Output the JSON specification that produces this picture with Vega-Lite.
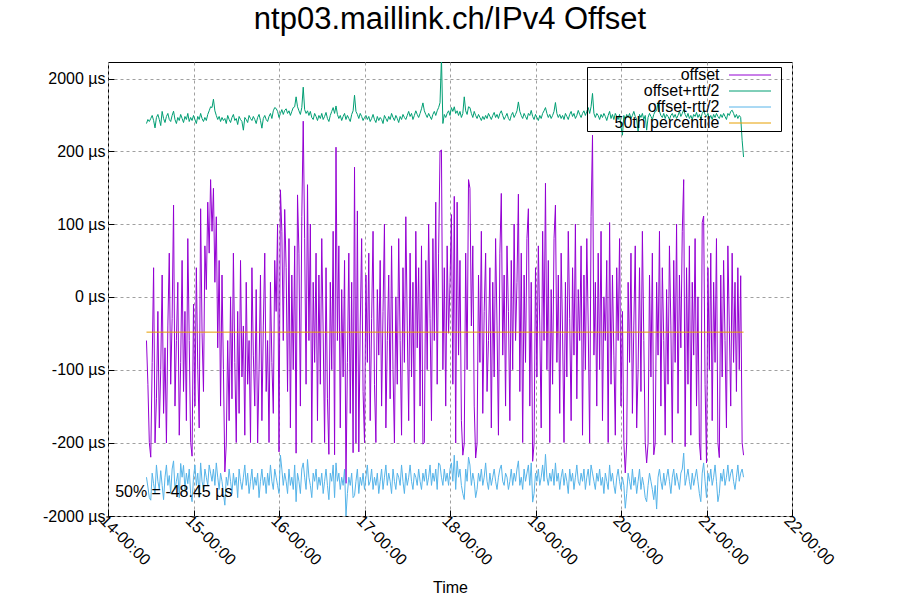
{
"$schema":"https://vega.github.io/schema/vega-lite/v6.json",
"width":684,"height":454,
"autosize":"none",
"padding":{"left":108,"top":62,"right":108,"bottom":84},
"background":"white",
"title":{"text":"ntp03.maillink.ch/IPv4 Offset","fontSize":31,"font":"Liberation Sans","fontWeight":"normal","color":"black","anchor":"middle","baseline":"alphabetic","offset":2},
"config":{"font":"Liberation Sans","view":{"stroke":"black","strokeWidth":1},
 "axis":{"labelFont":"Liberation Sans","labelFontSize":16,"labelColor":"black","domain":false,"grid":true,"gridColor":"#a0a0a0","gridDash":[3,3],"gridOpacity":1,"tickColor":"black","titleFont":"Liberation Sans","titleFontSize":16,"titleFontWeight":"normal","titleColor":"black","labelOverlap":false,"labelFlush":false,"labelBound":false},
 "legend":{"labelFont":"Liberation Sans","labelFontSize":16,"labelColor":"black"}},
"layer":[
{"data":{"values":[
{"t":27,"o":-60,"p":885,"m":-1050},{"t":28,"o":-120,"p":985,"m":-1290},{"t":29,"o":-200,"p":935,"m":-1550},{"t":30,"o":-560,"p":1010,"m":-1613},{"t":31,"o":-90,"p":1085,"m":-950},{"t":32,"o":40,"p":960,"m":-1210},{"t":33,"o":-210,"p":777,"m":-1450},{"t":34,"o":-140,"p":1035,"m":-750},{"t":35,"o":-20,"p":1110,"m":-1150},{"t":36,"o":-180,"p":985,"m":-1350},
{"t":37,"o":-100,"p":835,"m":-890},{"t":38,"o":30,"p":1185,"m":-1250},{"t":39,"o":-160,"p":1010,"m":-1600},{"t":40,"o":-70,"p":910,"m":-1050},{"t":41,"o":-210,"p":1060,"m":-750},{"t":42,"o":-40,"p":1135,"m":-1250},{"t":43,"o":60,"p":985,"m":-1010},{"t":44,"o":-120,"p":935,"m":-1450},{"t":45,"o":-30,"p":1085,"m":-850},{"t":46,"o":126,"p":1190,"m":-650},
{"t":47,"o":-150,"p":985,"m":-1350},{"t":48,"o":-60,"p":885,"m":-1150},{"t":49,"o":20,"p":1035,"m":-950},{"t":50,"o":-190,"p":960,"m":-1550},{"t":51,"o":-90,"p":1110,"m":-714},{"t":52,"o":50,"p":1010,"m":-1050},{"t":53,"o":-130,"p":910,"m":-760},{"t":54,"o":-20,"p":1060,"m":-1350},{"t":55,"o":-170,"p":985,"m":-950},{"t":56,"o":80,"p":1135,"m":-1210},
{"t":57,"o":-60,"p":935,"m":-850},{"t":58,"o":-200,"p":1035,"m":-1450},{"t":59,"o":-535,"p":960,"m":-1650},{"t":60,"o":-10,"p":1085,"m":-1050},{"t":61,"o":-150,"p":985,"m":-750},{"t":62,"o":40,"p":885,"m":-1250},{"t":63,"o":-100,"p":1060,"m":-950},{"t":64,"o":-180,"p":985,"m":-1550},{"t":65,"o":121,"p":1135,"m":-700},{"t":66,"o":-50,"p":1010,"m":-1150},
{"t":67,"o":-130,"p":935,"m":-1350},{"t":68,"o":70,"p":1035,"m":-850},{"t":69,"o":10,"p":960,"m":-1050},{"t":70,"o":130,"p":1110,"m":-1250},{"t":71,"o":60,"p":1200,"m":-750},{"t":72,"o":161,"p":1300,"m":-950},{"t":73,"o":90,"p":1280,"m":-1150},{"t":74,"o":149,"p":1487,"m":-850},{"t":75,"o":20,"p":1200,"m":-1250},{"t":76,"o":110,"p":1085,"m":-700},
{"t":77,"o":-70,"p":985,"m":-1050},{"t":78,"o":50,"p":1060,"m":-1350},{"t":79,"o":-150,"p":935,"m":-950},{"t":80,"o":30,"p":1035,"m":-1150},{"t":81,"o":-100,"p":960,"m":-1450},{"t":82,"o":-920,"p":1010,"m":-1735},{"t":83,"o":-238,"p":885,"m":-1050},{"t":84,"o":-60,"p":1085,"m":-1250},{"t":85,"o":-170,"p":985,"m":-850},{"t":86,"o":0,"p":910,"m":-1150},
{"t":87,"o":-140,"p":1035,"m":-1450},{"t":88,"o":60,"p":1110,"m":-950},{"t":89,"o":-90,"p":960,"m":-1250},{"t":90,"o":-200,"p":1010,"m":-1050},{"t":91,"o":-20,"p":860,"m":-1550},{"t":92,"o":-160,"p":1060,"m":-850},{"t":93,"o":50,"p":985,"m":-1150},{"t":94,"o":-110,"p":935,"m":-1350},{"t":95,"o":-40,"p":720,"m":-1050},{"t":96,"o":-190,"p":1035,"m":-750},
{"t":97,"o":20,"p":985,"m":-1250},{"t":98,"o":-120,"p":910,"m":-950},{"t":99,"o":-60,"p":1085,"m":-1450},{"t":100,"o":-200,"p":1010,"m":-1150},{"t":101,"o":40,"p":960,"m":-850},{"t":102,"o":-80,"p":1060,"m":-1350},{"t":103,"o":-150,"p":985,"m":-1050},{"t":104,"o":10,"p":885,"m":-1250},{"t":105,"o":-210,"p":1035,"m":-950},{"t":106,"o":-100,"p":1110,"m":-1550},
{"t":107,"o":30,"p":960,"m":-1150},{"t":108,"o":-170,"p":770,"m":-850},{"t":109,"o":-40,"p":1010,"m":-1250},{"t":110,"o":60,"p":1085,"m":-1050},{"t":111,"o":-130,"p":985,"m":-1450},{"t":112,"o":-60,"p":935,"m":-950},{"t":113,"o":-200,"p":1060,"m":-1250},{"t":114,"o":20,"p":1135,"m":-750},{"t":115,"o":-90,"p":1010,"m":-1150},{"t":116,"o":-160,"p":1200,"m":-1350},
{"t":117,"o":50,"p":1280,"m":-850},{"t":118,"o":-20,"p":1257,"m":-1050},{"t":119,"o":100,"p":1185,"m":-1250},{"t":120,"o":-430,"p":1035,"m":-1450},{"t":121,"o":147,"p":1135,"m":-511},{"t":122,"o":90,"p":1230,"m":-850},{"t":123,"o":-60,"p":1110,"m":-1250},{"t":124,"o":120,"p":1210,"m":-950},{"t":125,"o":40,"p":1250,"m":-1150},{"t":126,"o":-130,"p":1135,"m":-1450},
{"t":127,"o":80,"p":1200,"m":-850},{"t":128,"o":-180,"p":1085,"m":-1250},{"t":129,"o":30,"p":1185,"m":-1050},{"t":130,"o":-100,"p":1280,"m":-1350},{"t":131,"o":70,"p":1300,"m":-750},{"t":132,"o":-462,"p":1546,"m":-1650},{"t":133,"o":140,"p":1300,"m":-950},{"t":134,"o":60,"p":1200,"m":-1150},{"t":135,"o":-150,"p":1110,"m":-1450},{"t":136,"o":110,"p":1280,"m":-850},
{"t":137,"o":943,"p":1785,"m":-700},{"t":138,"o":80,"p":1230,"m":-1050},{"t":139,"o":-120,"p":1135,"m":-1350},{"t":140,"o":154,"p":1200,"m":-616},{"t":141,"o":-60,"p":1085,"m":-1050},{"t":142,"o":100,"p":1185,"m":-1250},{"t":143,"o":-200,"p":1035,"m":-1550},{"t":144,"o":20,"p":985,"m":-950},{"t":145,"o":-90,"p":1135,"m":-1150},{"t":146,"o":60,"p":1060,"m":-850},
{"t":147,"o":-170,"p":960,"m":-1350},{"t":148,"o":30,"p":1085,"m":-1050},{"t":149,"o":-120,"p":1010,"m":-1250},{"t":150,"o":80,"p":1135,"m":-950},{"t":151,"o":-50,"p":985,"m":-1450},{"t":152,"o":-200,"p":1060,"m":-1150},{"t":153,"o":40,"p":1160,"m":-850},{"t":154,"o":-140,"p":1010,"m":-1250},{"t":155,"o":-490,"p":935,"m":-1600},{"t":156,"o":20,"p":1085,"m":-950},
{"t":157,"o":-100,"p":1185,"m":-1150},{"t":158,"o":90,"p":1280,"m":-750},{"t":159,"o":-500,"p":1135,"m":-1550},{"t":160,"o":299,"p":1320,"m":-700},{"t":161,"o":-60,"p":1110,"m":-1150},{"t":162,"o":70,"p":1010,"m":-950},{"t":163,"o":-180,"p":1085,"m":-1350},{"t":164,"o":10,"p":960,"m":-1050},{"t":165,"o":-110,"p":1060,"m":-1250},{"t":166,"o":50,"p":1135,"m":-850},
{"t":167,"o":-1200,"p":985,"m":-2000},{"t":168,"o":-90,"p":1085,"m":-1450},{"t":169,"o":60,"p":1010,"m":-1050},{"t":170,"o":-160,"p":935,"m":-1250},{"t":171,"o":20,"p":1110,"m":-950},{"t":172,"o":-450,"p":1200,"m":-1550},{"t":173,"o":178,"p":1586,"m":-1500},{"t":174,"o":-211,"p":1185,"m":-1150},{"t":175,"o":118,"p":1110,"m":-850},{"t":176,"o":-430,"p":1010,"m":-1450},
{"t":177,"o":-40,"p":1135,"m":-1050},{"t":178,"o":80,"p":1060,"m":-1250},{"t":179,"o":-130,"p":960,"m":-950},{"t":180,"o":-205,"p":1035,"m":-1350},{"t":181,"o":30,"p":1085,"m":-1050},{"t":182,"o":-90,"p":985,"m":-750},{"t":183,"o":60,"p":1060,"m":-1250},{"t":184,"o":-170,"p":935,"m":-1150},{"t":185,"o":-30,"p":1010,"m":-850},{"t":186,"o":90,"p":1110,"m":-1350},
{"t":187,"o":-120,"p":985,"m":-1050},{"t":188,"o":-200,"p":910,"m":-1250},{"t":189,"o":10,"p":1060,"m":-950},{"t":190,"o":-80,"p":960,"m":-1450},{"t":191,"o":50,"p":1035,"m":-1150},{"t":192,"o":-150,"p":985,"m":-850},{"t":193,"o":-20,"p":885,"m":-1350},{"t":194,"o":100,"p":1085,"m":-1050},{"t":195,"o":-180,"p":1010,"m":-750},{"t":196,"o":-60,"p":935,"m":-1250},
{"t":197,"o":30,"p":1060,"m":-950},{"t":198,"o":-140,"p":985,"m":-1150},{"t":199,"o":70,"p":1135,"m":-1450},{"t":200,"o":-100,"p":1035,"m":-850},{"t":201,"o":-210,"p":960,"m":-1150},{"t":202,"o":0,"p":1085,"m":-1350},{"t":203,"o":-120,"p":1010,"m":-950},{"t":204,"o":80,"p":910,"m":-1050},{"t":205,"o":-60,"p":1060,"m":-1250},{"t":206,"o":-190,"p":985,"m":-750},
{"t":207,"o":40,"p":1110,"m":-1150},{"t":208,"o":-90,"p":1035,"m":-1450},{"t":209,"o":110,"p":985,"m":-950},{"t":210,"o":-40,"p":1085,"m":-1250},{"t":211,"o":-170,"p":1185,"m":-1050},{"t":212,"o":60,"p":1060,"m":-750},{"t":213,"o":-110,"p":1135,"m":-1150},{"t":214,"o":20,"p":985,"m":-1350},{"t":215,"o":-200,"p":1085,"m":-950},{"t":216,"o":90,"p":1200,"m":-1050},
{"t":217,"o":-70,"p":1110,"m":-1250},{"t":218,"o":40,"p":1035,"m":-850},{"t":219,"o":-150,"p":1135,"m":-1150},{"t":220,"o":70,"p":1250,"m":-1350},{"t":221,"o":-240,"p":1396,"m":-950},{"t":222,"o":-204,"p":1200,"m":-1150},{"t":223,"o":50,"p":1110,"m":-850},{"t":224,"o":-100,"p":1035,"m":-1250},{"t":225,"o":100,"p":1135,"m":-1050},{"t":226,"o":-30,"p":1060,"m":-750},
{"t":227,"o":-170,"p":985,"m":-1250},{"t":228,"o":80,"p":1110,"m":-950},{"t":229,"o":-60,"p":1185,"m":-1150},{"t":230,"o":130,"p":1085,"m":-850},{"t":231,"o":-120,"p":1200,"m":-1350},{"t":232,"o":60,"p":1280,"m":-700},{"t":233,"o":200,"p":1400,"m":-750},{"t":234,"o":230,"p":2500,"m":-1050},{"t":235,"o":-100,"p":886,"m":-1250},{"t":236,"o":40,"p":1110,"m":-850},
{"t":237,"o":-150,"p":1035,"m":-1150},{"t":238,"o":70,"p":1135,"m":-950},{"t":239,"o":-50,"p":1200,"m":-1250},{"t":240,"o":20,"p":1085,"m":-850},{"t":241,"o":113,"p":1280,"m":-700},{"t":242,"o":-120,"p":1185,"m":-1150},{"t":243,"o":138,"p":1300,"m":-511},{"t":244,"o":-211,"p":1135,"m":-1350},{"t":245,"o":130,"p":1200,"m":-650},{"t":246,"o":-80,"p":1085,"m":-1050},
{"t":247,"o":50,"p":1185,"m":-850},{"t":248,"o":-170,"p":1035,"m":-1250},{"t":249,"o":-510,"p":1135,"m":-1450},{"t":250,"o":-218,"p":1546,"m":-1596},{"t":251,"o":60,"p":1200,"m":-850},{"t":252,"o":-100,"p":1110,"m":-1150},{"t":253,"o":161,"p":1300,"m":-560},{"t":254,"o":149,"p":1280,"m":-750},{"t":255,"o":-40,"p":1135,"m":-1250},{"t":256,"o":70,"p":1035,"m":-950},
{"t":257,"o":-150,"p":1185,"m":-1150},{"t":258,"o":-580,"p":1085,"m":-1550},{"t":259,"o":-222,"p":1010,"m":-1350},{"t":260,"o":30,"p":1110,"m":-950},{"t":261,"o":-90,"p":1035,"m":-1150},{"t":262,"o":90,"p":960,"m":-850},{"t":263,"o":-160,"p":1060,"m":-1250},{"t":264,"o":-20,"p":985,"m":-1050},{"t":265,"o":60,"p":1085,"m":-700},{"t":266,"o":-130,"p":1010,"m":-1150},
{"t":267,"o":-60,"p":1135,"m":-1350},{"t":268,"o":40,"p":1060,"m":-950},{"t":269,"o":-180,"p":985,"m":-1250},{"t":270,"o":20,"p":1085,"m":-1050},{"t":271,"o":-110,"p":1160,"m":-850},{"t":272,"o":80,"p":1035,"m":-1150},{"t":273,"o":-40,"p":1110,"m":-1350},{"t":274,"o":-190,"p":1010,"m":-1050},{"t":275,"o":60,"p":1135,"m":-850},{"t":276,"o":142,"p":1200,"m":-750},
{"t":277,"o":-80,"p":1085,"m":-1150},{"t":278,"o":30,"p":985,"m":-1250},{"t":279,"o":-150,"p":1060,"m":-950},{"t":280,"o":70,"p":1135,"m":-1050},{"t":281,"o":-20,"p":1010,"m":-1350},{"t":282,"o":-170,"p":960,"m":-1150},{"t":283,"o":50,"p":1085,"m":-850},{"t":284,"o":-100,"p":1160,"m":-1250},{"t":285,"o":100,"p":1035,"m":-950},{"t":286,"o":-60,"p":1110,"m":-1150},
{"t":287,"o":20,"p":1200,"m":-850},{"t":288,"o":141,"p":1420,"m":-650},{"t":289,"o":-130,"p":1185,"m":-1250},{"t":290,"o":60,"p":1085,"m":-1050},{"t":291,"o":-200,"p":1010,"m":-1350},{"t":292,"o":30,"p":1135,"m":-850},{"t":293,"o":-90,"p":1060,"m":-1150},{"t":294,"o":80,"p":985,"m":-950},{"t":295,"o":121,"p":1135,"m":-750},{"t":296,"o":-150,"p":1085,"m":-1250},
{"t":297,"o":20,"p":1210,"m":-700},{"t":298,"o":-660,"p":1060,"m":-1660},{"t":299,"o":-225,"p":985,"m":-1450},{"t":300,"o":40,"p":1110,"m":-950},{"t":301,"o":-110,"p":1035,"m":-1150},{"t":302,"o":70,"p":960,"m":-850},{"t":303,"o":-40,"p":1085,"m":-1250},{"t":304,"o":-180,"p":1010,"m":-1050},{"t":305,"o":90,"p":1135,"m":-750},{"t":306,"o":-60,"p":1200,"m":-1150},
{"t":307,"o":156,"p":1280,"m":-490},{"t":308,"o":-100,"p":1135,"m":-1050},{"t":309,"o":50,"p":1035,"m":-1250},{"t":310,"o":-200,"p":1110,"m":-950},{"t":311,"o":10,"p":1010,"m":-1150},{"t":312,"o":-120,"p":1085,"m":-850},{"t":313,"o":80,"p":1185,"m":-1250},{"t":314,"o":126,"p":1405,"m":-700},{"t":315,"o":-90,"p":1135,"m":-1150},{"t":316,"o":30,"p":1035,"m":-950},
{"t":317,"o":-160,"p":1110,"m":-1350},{"t":318,"o":60,"p":1010,"m":-1050},{"t":319,"o":-50,"p":1085,"m":-850},{"t":320,"o":-200,"p":985,"m":-1250},{"t":321,"o":20,"p":1135,"m":-950},{"t":322,"o":-110,"p":1060,"m":-1150},{"t":323,"o":90,"p":985,"m":-1450},{"t":324,"o":-30,"p":1110,"m":-850},{"t":325,"o":-170,"p":1185,"m":-1150},{"t":326,"o":40,"p":1060,"m":-950},
{"t":327,"o":-80,"p":1135,"m":-1350},{"t":328,"o":100,"p":1010,"m":-1050},{"t":329,"o":-140,"p":1085,"m":-750},{"t":330,"o":10,"p":1210,"m":-1150},{"t":331,"o":-60,"p":1110,"m":-1250},{"t":332,"o":70,"p":1035,"m":-950},{"t":333,"o":-190,"p":1135,"m":-1150},{"t":334,"o":30,"p":1200,"m":-850},{"t":335,"o":-100,"p":1085,"m":-1350},{"t":336,"o":80,"p":1185,"m":-1050},
{"t":337,"o":-40,"p":1280,"m":-850},{"t":338,"o":-210,"p":1135,"m":-1250},{"t":339,"o":110,"p":1300,"m":-750},{"t":340,"o":596,"p":1630,"m":-950},{"t":341,"o":-80,"p":1135,"m":-1150},{"t":342,"o":20,"p":1035,"m":-1350},{"t":343,"o":-150,"p":1135,"m":-950},{"t":344,"o":60,"p":1085,"m":-1150},{"t":345,"o":-100,"p":985,"m":-850},{"t":346,"o":90,"p":1110,"m":-1250},
{"t":347,"o":-170,"p":1035,"m":-1050},{"t":348,"o":0,"p":1135,"m":-1450},{"t":349,"o":-60,"p":1060,"m":-950},{"t":350,"o":50,"p":960,"m":-1150},{"t":351,"o":-200,"p":1085,"m":-1350},{"t":352,"o":102,"p":1185,"m":-750},{"t":353,"o":-120,"p":1010,"m":-1150},{"t":354,"o":30,"p":1110,"m":-950},{"t":355,"o":-80,"p":985,"m":-1250},{"t":356,"o":-190,"p":1135,"m":-1450},
{"t":357,"o":40,"p":1060,"m":-1050},{"t":358,"o":-60,"p":985,"m":-850},{"t":359,"o":80,"p":1110,"m":-1150},{"t":360,"o":-150,"p":800,"m":-1350},{"t":361,"o":-20,"p":596,"m":-1050},{"t":362,"o":-200,"p":1085,"m":-1250},{"t":363,"o":-945,"p":985,"m":-1810},{"t":364,"o":-210,"p":1110,"m":-1450},{"t":365,"o":20,"p":1035,"m":-950},{"t":366,"o":-90,"p":1135,"m":-1150},
{"t":367,"o":60,"p":1010,"m":-1350},{"t":368,"o":-160,"p":1085,"m":-850},{"t":369,"o":-40,"p":1185,"m":-1250},{"t":370,"o":70,"p":1060,"m":-1050},{"t":371,"o":-180,"p":985,"m":-1450},{"t":372,"o":-100,"p":678,"m":-1150},{"t":373,"o":40,"p":1110,"m":-850},{"t":374,"o":-130,"p":1035,"m":-1350},{"t":375,"o":90,"p":1135,"m":-1050},{"t":376,"o":-60,"p":985,"m":-1250},
{"t":377,"o":-200,"p":1085,"m":-1550},{"t":378,"o":-700,"p":720,"m":-1650},{"t":379,"o":-220,"p":1035,"m":-1250},{"t":380,"o":30,"p":1135,"m":-950},{"t":381,"o":-110,"p":1060,"m":-1150},{"t":382,"o":60,"p":985,"m":-1350},{"t":383,"o":-500,"p":1110,"m":-1600},{"t":384,"o":-210,"p":1185,"m":-1250},{"t":385,"o":20,"p":1200,"m":-1830},{"t":386,"o":-80,"p":1405,"m":-1050},
{"t":387,"o":90,"p":1185,"m":-850},{"t":388,"o":-150,"p":1085,"m":-1150},{"t":389,"o":40,"p":1035,"m":-1350},{"t":390,"o":-60,"p":1135,"m":-950},{"t":391,"o":-190,"p":1010,"m":-1250},{"t":392,"o":10,"p":1110,"m":-1050},{"t":393,"o":-120,"p":1060,"m":-850},{"t":394,"o":70,"p":985,"m":-1150},{"t":395,"o":-40,"p":1085,"m":-1450},{"t":396,"o":-200,"p":1135,"m":-1050},
{"t":397,"o":50,"p":1035,"m":-850},{"t":398,"o":-90,"p":1110,"m":-1250},{"t":399,"o":100,"p":1010,"m":-950},{"t":400,"o":-160,"p":1085,"m":-1150},{"t":401,"o":30,"p":1185,"m":-1350},{"t":402,"o":-70,"p":1060,"m":-950},{"t":403,"o":90,"p":1135,"m":-850},{"t":404,"o":161,"p":1230,"m":-460},{"t":405,"o":-300,"p":1110,"m":-1250},{"t":406,"o":40,"p":1035,"m":-1050},
{"t":407,"o":-120,"p":1135,"m":-850},{"t":408,"o":70,"p":1010,"m":-1150},{"t":409,"o":-190,"p":1085,"m":-1350},{"t":410,"o":20,"p":985,"m":-950},{"t":411,"o":-80,"p":1110,"m":-1250},{"t":412,"o":80,"p":1060,"m":-1050},{"t":413,"o":-150,"p":1160,"m":-850},{"t":414,"o":0,"p":1035,"m":-1150},{"t":415,"o":-200,"p":1110,"m":-1450},{"t":416,"o":-630,"p":1010,"m":-1650},
{"t":417,"o":102,"p":1135,"m":-950},{"t":418,"o":111,"p":1200,"m":-700},{"t":419,"o":-120,"p":1110,"m":-1150},{"t":420,"o":-700,"p":1060,"m":-1550},{"t":421,"o":40,"p":1135,"m":-950},{"t":422,"o":-100,"p":1010,"m":-1150},{"t":423,"o":60,"p":1085,"m":-850},{"t":424,"o":-170,"p":985,"m":-1250},{"t":425,"o":20,"p":1110,"m":-1050},{"t":426,"o":-90,"p":1035,"m":-750},
{"t":427,"o":80,"p":1135,"m":-1150},{"t":428,"o":-200,"p":1060,"m":-1650},{"t":429,"o":-570,"p":1010,"m":-1450},{"t":430,"o":30,"p":1110,"m":-950},{"t":431,"o":-110,"p":1035,"m":-1150},{"t":432,"o":50,"p":1135,"m":-850},{"t":433,"o":-60,"p":1060,"m":-1250},{"t":434,"o":-180,"p":985,"m":-1050},{"t":435,"o":70,"p":1135,"m":-750},{"t":436,"o":-40,"p":1085,"m":-1150},
{"t":437,"o":-150,"p":1185,"m":-950},{"t":438,"o":60,"p":1215,"m":-850},{"t":439,"o":-90,"p":1135,"m":-1150},{"t":440,"o":20,"p":1035,"m":-1350},{"t":441,"o":-130,"p":1110,"m":-1050},{"t":442,"o":40,"p":1010,"m":-750},{"t":443,"o":-100,"p":1085,"m":-1150},{"t":444,"o":29,"p":1035,"m":-950},{"t":445,"o":-200,"p":472,"m":-850},{"t":446,"o":-510,"p":192,"m":-1050}
]},
"transform":[{"fold":["o","p","m"],"as":["key","v"]}],
"mark":{"type":"line","strokeWidth":1,"clip":true},
"encoding":{
 "x":{"field":"t","type":"quantitative","scale":{"domain":[0,480],"nice":false,"zero":false},
  "axis":{"values":[0,60,120,180,240,300,360,420,480],"labelExpr":"format(14 + datum.value/60, '02d') + '-00:00'","labelAngle":45,"labelAlign":"left","labelBaseline":"top","labelPadding":2,"tickSize":-6,"title":"Time","titleY":76,"titleBaseline":"alphabetic"}},
 "y":{"field":"v","type":"quantitative","scale":{"domain":[-2000,-200,200,2000,2400],"range":[454,380.5,89.2,16.5,0],"nice":false,"zero":false},
  "axis":{"values":[-2000,-200,-100,0,100,200,2000],"labelExpr":"datum.value + ' µs'","title":null,"tickSize":-6,"labelPadding":9}},
 "color":{"field":"key","type":"nominal","scale":{"domain":["o","p","m","q"],"range":["#9400d3","#009e73","#56b4e9","#e69f00"]},
  "legend":{"orient":"none","legendX":479,"legendY":5,"title":null,"strokeColor":"black","padding":0,"symbolType":"M-2.8,0H2.8M3.85,0","symbolSize":225,"symbolStrokeWidth":1,"symbolOffset":155,"labelAlign":"right","labelOffset":-38.5,"labelFontSize":16,"rowPadding":-2.6,
   "labelExpr":"datum.label == 'o' ? 'offset' : datum.label == 'p' ? 'offset+rtt/2' : datum.label == 'm' ? 'offset-rtt/2' : '50th percentile'"}}
}},
{"data":{"values":[{"t":27,"t2":446,"v":-48.45,"key":"q"}]},
 "mark":{"type":"rule","strokeWidth":1},
 "encoding":{"x":{"field":"t","type":"quantitative"},"x2":{"field":"t2"},"y":{"field":"v","type":"quantitative"},"color":{"field":"key","type":"nominal"}}},
{"data":{"values":[{"t":5,"v":-1412,"label":"50% = -48.45 µs"}]},
 "mark":{"type":"text","align":"left","baseline":"middle","fontSize":16,"font":"Liberation Sans","color":"black"},
 "encoding":{"x":{"field":"t","type":"quantitative"},"y":{"field":"v","type":"quantitative"},"text":{"field":"label"}}}
]
}
